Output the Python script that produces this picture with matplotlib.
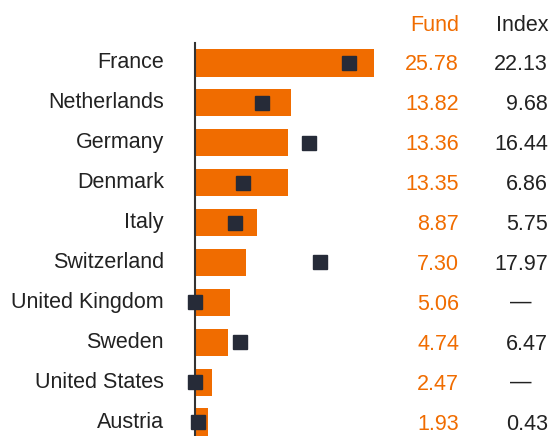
import matplotlib.pyplot as plt
from matplotlib.transforms import blended_transform_factory

plt.rcParams['font.family'] = ['Liberation Sans', 'DejaVu Sans']

# data
countries = ['France', 'Netherlands', 'Germany', 'Denmark', 'Italy',
             'Switzerland', 'United Kingdom', 'Sweden', 'United States', 'Austria']
fund = [25.78, 13.82, 13.36, 13.35, 8.87, 7.30, 5.06, 4.74, 2.47, 1.93]
index = [22.13, 9.68, 16.44, 6.86, 5.75, 17.97, None, 6.47, None, 0.43]

orange = '#F06C00'
dark = '#262B38'

W, H = 550, 436
fig = plt.figure(figsize=(W / 100, H / 100), dpi=100)
ax = fig.add_axes([195 / W, 0, (W - 195) / W, 393 / H])

y = list(range(len(countries)))
ax.barh(y, fund, height=0.68, color=orange, zorder=2)
idx_vals = [v if v is not None else 0 for v in index]
ax.plot(idx_vals, y, 's', color=dark, markersize=10, zorder=3, clip_on=False)

ax.set_xlim(0, 51.15)
ax.set_ylim(9.35, -0.5)
for s in ['top', 'right', 'bottom']:
    ax.spines[s].set_visible(False)
ax.spines['left'].set_color('#333333')
ax.spines['left'].set_linewidth(1.5)
ax.set_xticks([])
ax.set_yticks([])

tr = blended_transform_factory(fig.transFigure, ax.transData)
fs = 15.5
for i, c in enumerate(countries):
    ax.text(164 / W, i, c, transform=tr, ha='right', va='center',
            fontsize=fs, color='#222222', clip_on=False)
    ax.text(459 / W, i + 0.05, f'{fund[i]:.2f}', transform=tr, ha='right',
            va='center', fontsize=fs, color=orange, clip_on=False)
    if index[i] is None:
        ax.text(521 / W, i, '\u2014', transform=tr, ha='center', va='center',
                fontsize=fs, color='#222222', clip_on=False)
    else:
        ax.text(548 / W, i + 0.05, f'{index[i]:.2f}', transform=tr, ha='right',
                va='center', fontsize=fs, color='#222222', clip_on=False)

ax.text(459 / W, -0.95, 'Fund', transform=tr, ha='right', va='center',
        fontsize=fs, color=orange, clip_on=False)
ax.text(548 / W, -0.95, 'Index', transform=tr, ha='right', va='center',
        fontsize=fs, color='#222222', clip_on=False)

fig.savefig('out.png', dpi=100)
